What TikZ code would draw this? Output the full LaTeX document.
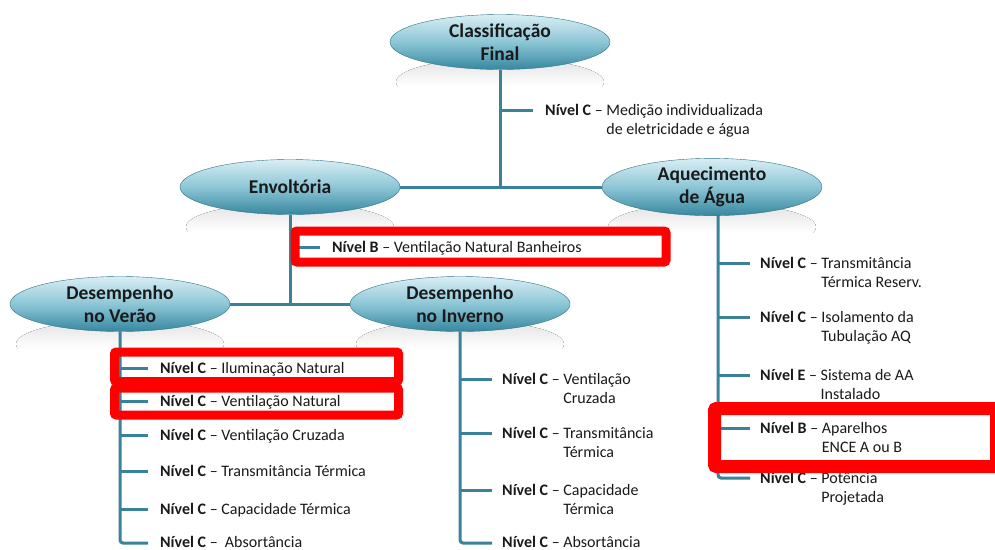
\documentclass[tikz,border=0pt]{standalone}
\usepackage{fontspec}
\setmainfont{Carlito}
\usetikzlibrary{shapes.geometric,calc}
\definecolor{teal1}{HTML}{3A8299}
\definecolor{elltop}{HTML}{D8EEF4}
\definecolor{ellmid}{HTML}{8CC6D6}
\definecolor{ellbot}{HTML}{37879F}
\definecolor{redbox}{HTML}{FF0000}
\definecolor{txt}{HTML}{1A1A1A}
\newcommand\nv[3]{\begin{tabular}[t]{@{}l@{ }l@{}}\textbf{Nível #1} –&#2\\&#3\end{tabular}}
\newcommand\nvone[2]{\textbf{Nível #1} – #2}
\pgfdeclarelayer{bg}\pgfsetlayers{bg,main}
\tikzset{
 ell/.style={ellipse, minimum width=220pt, minimum height=55pt, inner sep=0pt,
   top color=elltop, bottom color=ellbot, middle color=ellmid,
   draw=ellbot!85!black, line width=0.4pt, align=center,
   font=\fontsize{19.5}{23.5}\selectfont\bfseries, text=txt},
 item/.style={anchor=base west, inner sep=0pt, font=\fontsize{16}{19.5}\selectfont, text=txt},
 conn/.style={draw=teal1, line width=3pt, rounded corners=3pt},
 hl/.style={draw=redbox, line width=9pt, rounded corners=2pt}
}
\begin{document}
\begin{tikzpicture}[x=1pt,y=-1pt]
\useasboundingbox (0,0) rectangle (995,549);
% ellipses
\node[ell] (cf) at (500,42) {Classificação\\Final};
\node[ell] (env) at (290,187) {Envoltória};
\node[ell] (aq) at (712,187) {Aquecimento\\de Água};
\node[ell] (ver) at (120,304) {Desempenho\\no Verão};
\node[ell] (inv) at (460,304) {Desempenho\\no Inverno};
% branch end coordinates
\coordinate (k0) at (533,110);
\coordinate (k1) at (320,247);
\coordinate (v1) at (148,368);
\coordinate (v2) at (148,401);
\coordinate (v3) at (148,435);
\coordinate (v4) at (148,471);
\coordinate (v5) at (148,509);
\coordinate (v6) at (148,543);
\coordinate (w1) at (492,379);
\coordinate (w2) at (492,433);
\coordinate (w3) at (492,490);
\coordinate (w4) at (492,543);
\coordinate (at) at (718,200);
\coordinate (a1) at (750,263);
\coordinate (a2) at (750,317);
\coordinate (a3) at (750,375);
\coordinate (a4) at (750,428);
\coordinate (a5) at (750,478);
% texts
\node[item] (t0) at ($(k0)+(12,5)$) {\nv{C}{Medição individualizada}{de eletricidade e água}};
\node[item] (t1) at ($(k1)+(12,5)$) {\nvone{B}{Ventilação Natural Banheiros}};
\node[item] (tv1) at ($(v1)+(12,5)$) {\nvone{C}{Iluminação Natural}};
\node[item] (tv2) at ($(v2)+(12,5)$) {\nvone{C}{Ventilação Natural}};
\node[item] (tv3) at ($(v3)+(12,5)$) {\nvone{C}{Ventilação Cruzada}};
\node[item] (tv4) at ($(v4)+(12,5)$) {\nvone{C}{Transmitância Térmica}};
\node[item] (tv5) at ($(v5)+(12,5)$) {\nvone{C}{Capacidade Térmica}};
\node[item] (tv6) at ($(v6)+(12,4)$) {\nvone{C}{\ Absortância}};
\node[item] (tw1) at ($(w1)+(10,5)$) {\nv{C}{Ventilação}{Cruzada}};
\node[item] (tw2) at ($(w2)+(10,5)$) {\nv{C}{Transmitância}{Térmica}};
\node[item] (tw3) at ($(w3)+(10,5)$) {\nv{C}{Capacidade}{Térmica}};
\node[item] (tw4) at ($(w4)+(10,4)$) {\nvone{C}{Absortância}};
\node[item] (ta1) at ($(a1)+(10,5)$) {\nv{C}{Transmitância}{Térmica Reserv.}};
\node[item] (ta2) at ($(a2)+(10,5)$) {\nv{C}{Isolamento da}{Tubulação AQ}};
\node[item] (ta3) at ($(a3)+(10,5)$) {\nv{E}{Sistema de AA}{Instalado}};
\node[item] (ta4) at ($(a4)+(10,5)$) {\nv{B}{Aparelhos}{ENCE A ou B}};
\node[item] (ta5) at ($(a5)+(10,5)$) {\nv{C}{Potência}{Projetada}};
% background: white, faint reflections, connectors
\begin{pgfonlayer}{bg}
\fill[white] (0,0) rectangle (995,549);
\foreach \n in {cf,env,aq,ver,inv} {
  \begin{scope}
    \clip ($(\n.center)+(0,40)$) ellipse (104pt and 24pt);
    \fill[top color=black!10, bottom color=white] ($(\n.south)+(-110,-8)$) rectangle ($(\n.south)+(110,17)$);
  \end{scope}
}
\draw[conn] (cf.south) -- (cf.south |- env.east);
\draw[conn] (env.east) -- (aq.west);
\draw[conn] (cf.south |- k0) -- (k0);
\draw[conn] (env.south) -- (env.south |- ver.east);
\draw[conn] (ver.east) -- (inv.west);
\draw[conn] (env.south |- k1) -- (k1);
\draw[conn] (ver.south) |- (v6);
\foreach \i in {1,...,5} \draw[conn] (ver.south |- v\i) -- (v\i);
\draw[conn] (inv.south) |- (w4);
\foreach \i in {1,...,3} \draw[conn] (inv.south |- w\i) -- (w\i);
\draw[conn] (at) |- (a5);
\foreach \i in {1,...,4} \draw[conn] (at |- a\i) -- (a\i);
\end{pgfonlayer}
% highlights
\draw[hl] (295,231) rectangle (666,262);
\draw[hl] (114.5,352) rectangle (398.5,381.5);
\draw[hl] (114.5,388) rectangle (398.5,415);
\draw[hl, line width=13pt] (714.5,408.5) rectangle (996.5,466.5);
\end{tikzpicture}
\end{document}
